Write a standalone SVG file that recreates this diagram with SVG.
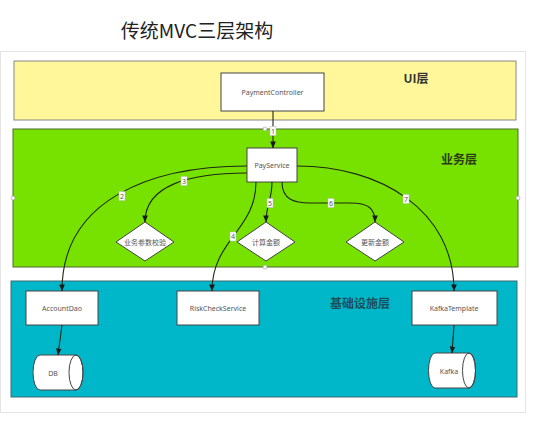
<svg xmlns="http://www.w3.org/2000/svg" width="538" height="423" viewBox="0 0 538 423">
<defs>
<marker id="ah" viewBox="0 0 8 8" refX="7.5" refY="4" markerWidth="7" markerHeight="7" markerUnits="userSpaceOnUse" orient="auto">
<path d="M0,0.8 L8,4 L0,7.2 Z" fill="#1a1a1a"/>
</marker>
<style>
.t{font-family:"Noto Sans","Noto Sans CJK SC",sans-serif;font-size:7px;fill:#555;text-anchor:middle;dominant-baseline:central}
.lay{font-family:"Noto Sans CJK SC",sans-serif;font-weight:bold;font-size:12px;text-anchor:middle;dominant-baseline:central}
.box{fill:#fff;stroke:#444;stroke-width:1}
.c{fill:none;stroke:#1e2a14;stroke-width:1.1;marker-end:url(#ah)}
.lb{fill:#fff;stroke:#bbb;stroke-width:0.5}
.ln{font-family:"Noto Sans",sans-serif;font-size:7px;fill:#555;text-anchor:middle;dominant-baseline:central}
.h{fill:#fff;stroke:#999;stroke-width:0.6}
</style>
</defs>
<rect width="538" height="423" fill="#fff"/>
<text x="197" y="29" font-family="Noto Sans CJK SC, sans-serif" font-size="19" fill="#222" text-anchor="middle" dominant-baseline="central">传统MVC三层架构</text>
<rect x="0.5" y="51.5" width="525" height="361" fill="#fff" stroke="#e4e4e4"/>
<g id="ui-layer">
<rect x="14" y="61" width="502" height="59" fill="#fff799" stroke="#888"/>
<text class="lay" x="416" y="77" fill="#333" font-size="11">UI层</text>
</g>
<g id="business-layer">
<rect x="13" y="129" width="505" height="138" fill="#77e100" stroke="#4f6b2e"/>
<text class="lay" x="459" y="158" fill="#2a3a1a">业务层</text>
</g>
<g id="infra-layer">
<rect x="11" y="281" width="506" height="116" fill="#00b7ca" stroke="#3c6a78"/>
<text class="lay" x="360" y="302" fill="#1c4f5c">基础设施层</text>
</g>
<g id="PaymentController"><rect class="box" x="221" y="73" width="103" height="38"/><text class="t" x="272.5" y="92">PaymentController</text></g>
<g id="PayService"><rect class="box" x="247" y="148" width="50" height="34"/><text class="t" x="272" y="165">PayService</text></g>
<g id="check"><path class="box" d="M145,222 L174,242 L145,261 L116,242 Z"/><text class="t" x="145" y="242">业务参数校验</text></g>
<g id="calc"><path class="box" d="M266,222 L295,242 L266,261 L237,242 Z"/><text class="t" x="266" y="242">计算金额</text></g>
<g id="update"><path class="box" d="M375,222 L404,242 L375,261 L346,242 Z"/><text class="t" x="375" y="242">更新金额</text></g>
<g id="AccountDao"><rect class="box" x="26" y="291" width="72" height="34"/><text class="t" x="62" y="308">AccountDao</text></g>
<g id="RiskCheckService"><rect class="box" x="177" y="291" width="82" height="34"/><text class="t" x="218" y="308">RiskCheckService</text></g>
<g id="KafkaTemplate"><rect class="box" x="412" y="291" width="85" height="34"/><text class="t" x="454" y="308">KafkaTemplate</text></g>
<g id="DB"><path class="box" d="M40,355 H76 A7,17.5 0 0 1 76,390 H40 A7,17.5 0 0 1 40,355 Z"/><ellipse cx="76" cy="372.5" rx="7" ry="17.5" fill="none" stroke="#444"/><text class="t" x="53" y="373">DB</text></g>
<g id="Kafka"><path class="box" d="M435,353 H469 A6.5,17.5 0 0 1 469,388 H435 A6.5,17.5 0 0 1 435,353 Z"/><ellipse cx="469" cy="370.5" rx="6.5" ry="17.5" fill="none" stroke="#444"/><text class="t" x="449" y="371">Kafka</text></g>
<g id="connectors">
<path class="c" d="M273,111 L273,148"/>
<path class="c" d="M247,166 C150,166 62,200 62,291"/>
<path class="c" d="M247,173 C190,173 145,185 145,222"/>
<path class="c" d="M256,182 C256,230 212,240 212,291"/>
<path class="c" d="M272,182 C272,200 266,205 266,222"/>
<path class="c" d="M282,182 C282,200 295,203 310,203 L350,203 C368,203 375,208 375,222"/>
<path class="c" d="M297,166 C380,166 454,210 454,291"/>
<path class="c" d="M62,325 L58,355"/>
<path class="c" d="M454,325 L452,353"/>
<rect class="lb" x="270" y="126.5" width="6" height="9"/><text class="ln" x="273" y="131">1</text>
<rect class="lb" x="119" y="191.5" width="6" height="9"/><text class="ln" x="122" y="196">2</text>
<rect class="lb" x="181" y="176.5" width="6" height="9"/><text class="ln" x="184" y="181">3</text>
<rect class="lb" x="230" y="232" width="6" height="9"/><text class="ln" x="233" y="236.5">4</text>
<rect class="lb" x="267" y="198.5" width="6" height="9"/><text class="ln" x="270" y="203">5</text>
<rect class="lb" x="328" y="198.5" width="6" height="9"/><text class="ln" x="331" y="203">6</text>
<rect class="lb" x="403" y="194.5" width="6" height="9"/><text class="ln" x="406" y="199">7</text>
</g>
<g id="handles">
<circle class="h" cx="13" cy="198" r="2"/>
<circle class="h" cx="265" cy="129" r="2"/>
<circle class="h" cx="518" cy="198" r="2"/>
<circle class="h" cx="265" cy="267" r="2"/>
</g>
</svg>
